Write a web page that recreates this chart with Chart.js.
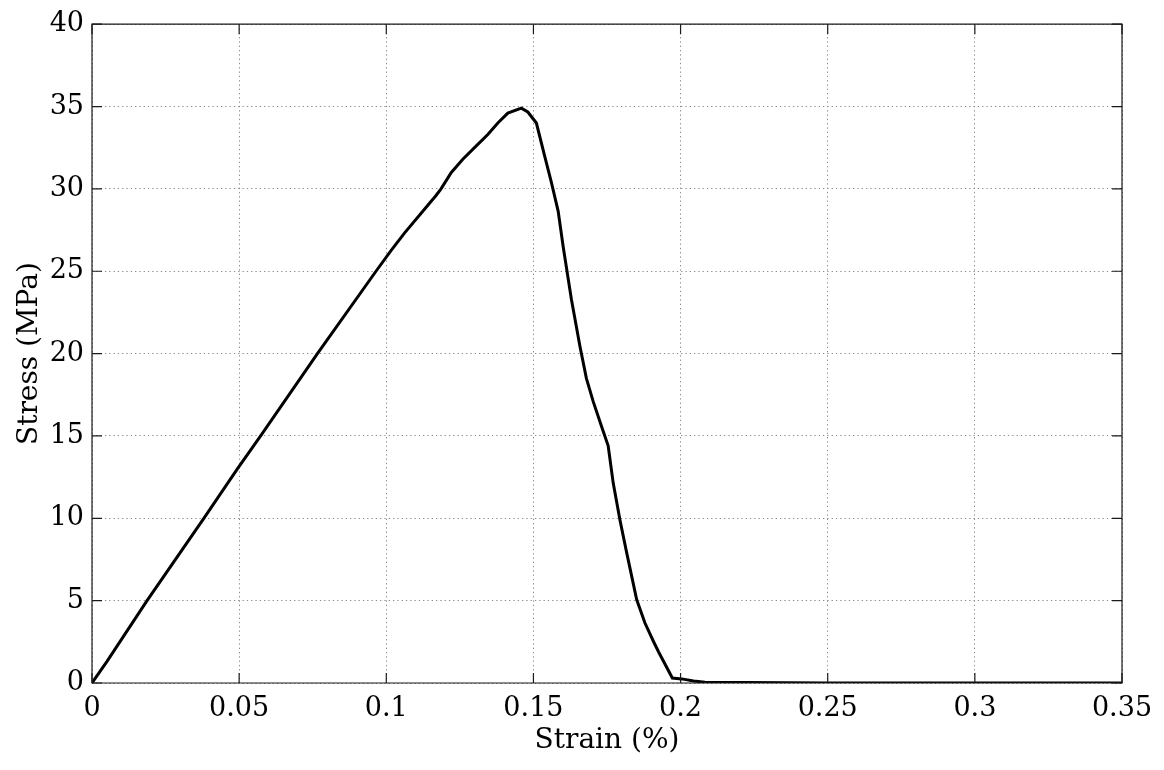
<!DOCTYPE html>
<html>
<head>
<meta charset="utf-8">
<script src="https://cdn.jsdelivr.net/npm/chart.js@4"></script>
<style>
  html, body { margin: 0; padding: 0; background: #fff; }
  #wrap { width: 1164px; height: 770px; position: relative; }
</style>
</head>
<body>
<div id="wrap"><canvas id="c"></canvas></div>
<script>
// ---- data ----
const strain = [0, 0.0051, 0.0187, 0.0380, 0.0494, 0.0573, 0.0766, 0.0965, 0.1016, 0.1061,
  0.1129, 0.1169, 0.1186, 0.1221, 0.1260, 0.1311, 0.1345, 0.1379, 0.1413, 0.1459,
  0.1481, 0.1510, 0.1538, 0.1561, 0.1584, 0.1601, 0.1629, 0.1658, 0.1680, 0.1703,
  0.1731, 0.1754, 0.1771, 0.1794, 0.1817, 0.1851, 0.1879, 0.1908, 0.1925, 0.1972,
  0.2004, 0.2044, 0.2083, 0.25, 0.30, 0.35];
const stress = [0, 1.31, 5.0, 10.0, 13.0, 15.0, 20.0, 25.0, 26.25, 27.3,
  28.75, 29.6, 30.0, 31.0, 31.8, 32.7, 33.3, 34.0, 34.6, 34.9,
  34.67, 34.0, 32.0, 30.4, 28.65, 26.5, 23.3, 20.45, 18.5, 17.1,
  15.6, 14.4, 12.15, 9.9, 7.9, 5.05, 3.64, 2.52, 1.9, 0.3,
  0.25, 0.12, 0.05, 0, 0, 0];
const xTickValues = [0, 0.05, 0.1, 0.15, 0.2, 0.25, 0.3, 0.35];
const xTickLabels = ['0', '0.05', '0.1', '0.15', '0.2', '0.25', '0.3', '0.35'];
const yTickValues = [0, 5, 10, 15, 20, 25, 30, 35, 40];
const yTickLabels = ['0', '5', '10', '15', '20', '25', '30', '35', '40'];
const xTitle = 'Strain (%)';
const yTitle = 'Stress (MPa)';

const points = strain.map((x, i) => ({ x: x, y: stress[i] }));
const FONT = '"DejaVu Serif", serif';

// frame + inward tick marks (MATLAB style box)
const framePlugin = {
  id: 'frame',
  afterDatasetsDraw(chart) {
    const { ctx, chartArea: a, scales } = chart;
    ctx.save();
    ctx.strokeStyle = '#1a1a1a';
    ctx.lineWidth = 1.2;
    ctx.setLineDash([]);
    ctx.beginPath();
    ctx.rect(a.left, a.top, a.right - a.left, a.bottom - a.top);
    ctx.stroke();
    const L = 10;
    ctx.beginPath();
    scales.x.ticks.forEach(t => {
      const px = scales.x.getPixelForValue(t.value);
      ctx.moveTo(px, a.bottom); ctx.lineTo(px, a.bottom - L);
      ctx.moveTo(px, a.top); ctx.lineTo(px, a.top + L);
    });
    scales.y.ticks.forEach(t => {
      const py = scales.y.getPixelForValue(t.value);
      ctx.moveTo(a.left, py); ctx.lineTo(a.left + L, py);
      ctx.moveTo(a.right, py); ctx.lineTo(a.right - L, py);
    });
    ctx.stroke();
    ctx.restore();
  }
};

new Chart(document.getElementById('c'), {
  type: 'scatter',
  data: {
    datasets: [{
      data: points,
      showLine: true,
      borderColor: '#000',
      borderWidth: 3,
      pointRadius: 0,
      tension: 0,
      fill: false
    }]
  },
  options: {
    responsive: true,
    maintainAspectRatio: false,
    animation: false,
    devicePixelRatio: 1,
    layout: { padding: { top: 24, right: 42, left: 0, bottom: 0 } },
    plugins: { legend: { display: false }, tooltip: { enabled: false } },
    scales: {
      x: {
        type: 'linear',
        min: 0, max: 0.35,
        afterBuildTicks: s => { s.ticks = xTickValues.map(v => ({ value: v })); },
        afterFit: s => { s.height = 87; },
        ticks: {
          color: '#000',
          font: { family: FONT, size: 27 },
          padding: 10,
          maxRotation: 0,
          autoSkip: false,
          callback: (v, i) => xTickLabels[i]
        },
        grid: { color: '#8a8a8a', lineWidth: 1, drawTicks: true, tickLength: 0 },
        border: { display: false, dash: [1.3, 3] },
        title: {
          display: true, text: xTitle, color: '#000',
          font: { family: FONT, size: 28 },
          padding: { top: 0, bottom: 12 }
        }
      },
      y: {
        type: 'linear',
        min: 0, max: 40,
        afterBuildTicks: s => { s.ticks = yTickValues.map(v => ({ value: v })); },
        afterFit: s => { s.width = 92; },
        ticks: {
          color: '#000',
          font: { family: FONT, size: 27 },
          padding: 8,
          autoSkip: false,
          callback: (v, i) => yTickLabels[i]
        },
        grid: { color: '#8a8a8a', lineWidth: 1, drawTicks: true, tickLength: 0 },
        border: { display: false, dash: [1.3, 3] },
        title: {
          display: true, text: yTitle, color: '#000',
          font: { family: FONT, size: 28 },
          padding: { top: 13, bottom: 0 }
        }
      }
    }
  },
  plugins: [framePlugin]
});
</script>
</body>
</html>
